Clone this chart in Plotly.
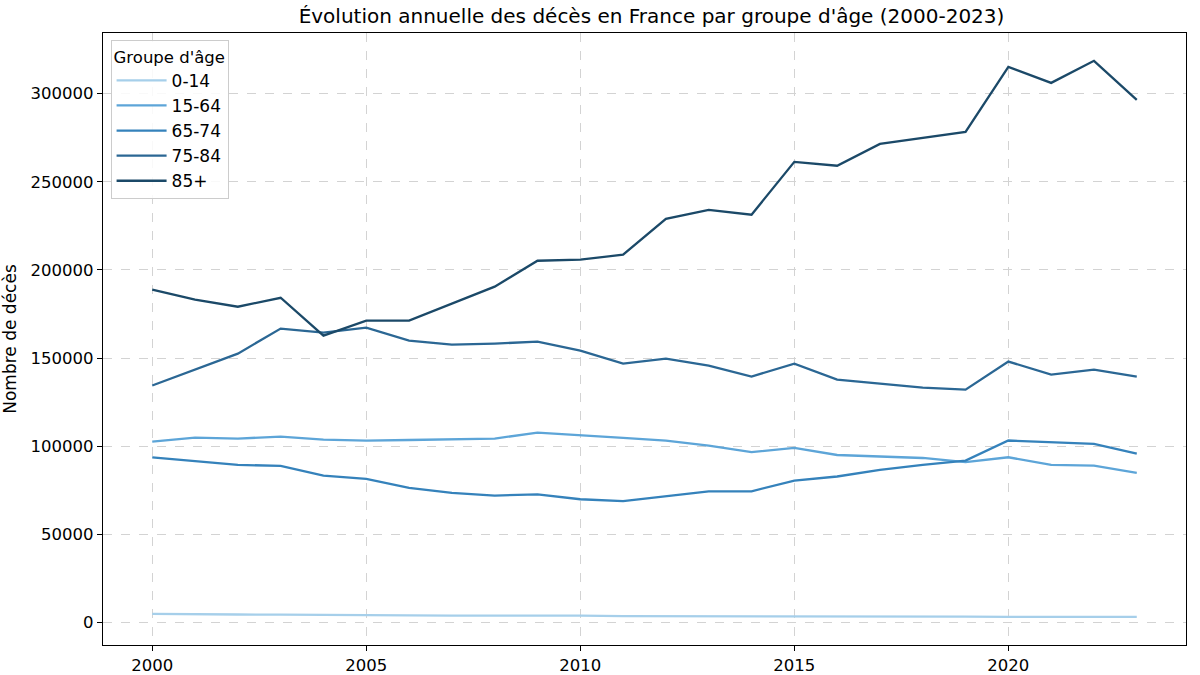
import plotly.graph_objects as go

years = list(range(2000, 2024))

age_groups = ["0-14", "15-64", "65-74", "75-84", "85+"]

deaths_0_14 = [4900, 4900, 4500, 4400, 4200, 4000, 4000, 3900, 3900, 4000, 3900, 3600,
               3600, 3700, 3500, 3600, 3400, 3400, 3400, 3300, 3100, 3000, 3300, 3200]
deaths_15_64 = [102600, 104900, 104300, 105400, 103700, 103200, 103500, 103700, 104300, 107700,
                106000, 104700, 103200, 100300, 96600, 99000, 95000, 94100, 93300, 90900,
                93700, 89400, 89000, 84900]
deaths_65_74 = [93700, 91500, 89400, 88800, 83300, 81400, 76400, 73500, 72000, 72600,
                69900, 68800, 71400, 74300, 74400, 80500, 82800, 86600, 89400, 91800,
                103200, 102200, 101300, 95800]
deaths_75_84 = [134400, 143400, 152500, 166700, 164400, 167200, 159900, 157600, 158200, 159300,
                154200, 146800, 149700, 145700, 139500, 146800, 137800, 135500, 133200, 132100,
                148000, 140600, 143400, 139500]
deaths_85p = [188800, 183100, 179100, 184200, 162700, 171200, 171200, 180800, 190500, 205200,
              205800, 208600, 229000, 234100, 231300, 261300, 259100, 271500, 275000, 278300,
              315200, 306100, 318600, 296500]

series = [deaths_0_14, deaths_15_64, deaths_65_74, deaths_75_84, deaths_85p]
colors = ["#a6cfea", "#5da5d8", "#3582bb", "#2b6794", "#1b4968"]

FONT = "DejaVu Sans"

fig = go.Figure()
for name, vals, col in zip(age_groups, series, colors):
    fig.add_trace(go.Scatter(x=years, y=vals, mode="lines", name=name,
                             line=dict(color=col, width=2.3)))

axis_common = dict(
    showline=True, linecolor="black", linewidth=1.3, mirror=True,
    ticks="outside", ticklen=5, tickwidth=1.2, tickcolor="black",
    showgrid=True, gridcolor="#d3d3d3", griddash="dash", gridwidth=1,
    zeroline=False, automargin=False,
    tickfont=dict(family=FONT, size=16.5, color="black"),
)

fig.update_layout(
    width=1200, height=675,
    paper_bgcolor="white", plot_bgcolor="white",
    margin=dict(l=103, r=14, t=33, b=30),
    font=dict(family=FONT, size=16, color="black"),
    title=dict(text="Évolution annuelle des décès en France par groupe d'âge (2000-2023)",
               x=651.5 / 1200, xanchor="center", y=1 - 16 / 675, yanchor="middle",
               font=dict(family=FONT, size=20, color="black")),
    xaxis=dict(range=[1998.85, 2024.15], tickmode="linear", tick0=2000, dtick=5, **axis_common),
    yaxis=dict(range=[-12800, 334400], tickmode="linear", tick0=0, dtick=50000, tickformat="d",
               title=dict(text="Nombre de décès", font=dict(family=FONT, size=17), standoff=10),
               **axis_common),
    legend=dict(
        title=dict(text="Groupe d'âge", font=dict(family=FONT, size=16.5)),
        x=0.007, y=0.988, xanchor="left", yanchor="top",
        bgcolor="rgba(255,255,255,0.85)", bordercolor="#cccccc", borderwidth=1,
        font=dict(family=FONT, size=17), itemwidth=50,
    ),
    showlegend=True,
)

fig.write_html(
    "out.html",
    config={"displayModeBar": False},
    post_script="document.body.style.margin='0';document.body.style.overflow='hidden';",
)
